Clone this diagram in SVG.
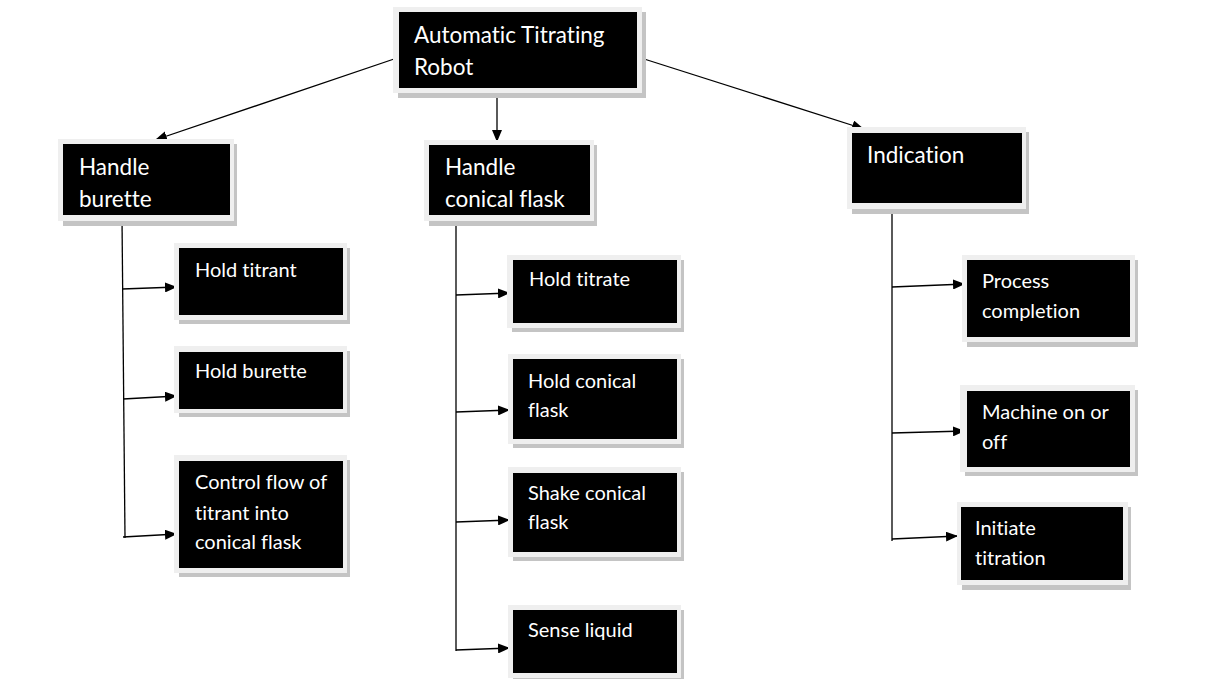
<svg xmlns="http://www.w3.org/2000/svg" width="1209" height="679" viewBox="0 0 1209 679">
<defs>
<marker id="ah" viewBox="0 0 12 10" refX="12" refY="5" markerWidth="12" markerHeight="10" markerUnits="userSpaceOnUse" orient="auto">
<path d="M0,0 L12,5 L0,10 z" fill="#000"/>
</marker>
</defs>
<style>
.sh{fill:#c4c4c4}
.fr{fill:#efefef}
.bx{fill:#000}
.t{font-family:Lato,"Open Sans","Liberation Sans",sans-serif;font-size:20px;fill:#fff;font-variant-ligatures:none}
.L{font-size:22.5px}
.c{stroke:#000;stroke-width:1.3;fill:none}
.a{stroke:#000;stroke-width:1.3;fill:none;marker-end:url(#ah)}
</style>
<rect width="1209" height="679" fill="#fff"/>
<g id="connectors">
<path class="a" d="M397,58 L155,140"/>
<path class="a" d="M497,97 L497,142"/>
<path class="a" d="M641,58 L864,129"/>
<path class="c" d="M122,218 L125,538"/>
<path class="a" d="M122,289 L177,287"/>
<path class="a" d="M123,399 L177,396"/>
<path class="a" d="M123,537 L177,534"/>
<path class="c" d="M456,218 L456,651"/>
<path class="a" d="M456,295 L510,293"/>
<path class="a" d="M456,412 L510,410"/>
<path class="a" d="M456,522 L510,520"/>
<path class="a" d="M456,650 L510,648"/>
<path class="c" d="M892,207 L892,541"/>
<path class="a" d="M892,287 L965,284"/>
<path class="a" d="M892,433 L965,431"/>
<path class="a" d="M892,539 L958,536"/>
</g>
<g id="root">
<rect class="sh" x="398" y="12" width="248" height="86"/>
<rect class="fr" x="393" y="7" width="249" height="86"/>
<rect class="bx" x="399" y="12" width="238" height="76"/>
<text class="t L" x="414" y="43">Automatic Titrating</text>
<text class="t L" x="414" y="75">Robot</text>
</g>
<g id="handle-burette">
<rect class="sh" x="63" y="144" width="174" height="82"/>
<rect class="fr" x="58" y="139" width="176" height="82"/>
<rect class="bx" x="63" y="144" width="167" height="71"/>
<text class="t L" x="79" y="175">Handle</text>
<text class="t L" x="79" y="207">burette</text>
</g>
<g id="hold-titrant">
<rect class="sh" x="179" y="248" width="171" height="76"/>
<rect class="fr" x="174" y="243" width="173" height="77"/>
<rect class="bx" x="179" y="248" width="164" height="67"/>
<text class="t" x="195" y="277">Hold titrant</text>
</g>
<g id="hold-burette">
<rect class="sh" x="179" y="351" width="171" height="66"/>
<rect class="fr" x="174" y="346" width="173" height="67"/>
<rect class="bx" x="179" y="352" width="164" height="57"/>
<text class="t" x="195" y="378">Hold burette</text>
</g>
<g id="control-flow">
<rect class="sh" x="179" y="460" width="171" height="117"/>
<rect class="fr" x="174" y="455" width="173" height="118"/>
<rect class="bx" x="179" y="461" width="164" height="107"/>
<text class="t" x="195" y="489">Control flow of</text>
<text class="t" x="195" y="520">titrant into</text>
<text class="t" x="195" y="549">conical flask</text>
</g>
<g id="handle-conical-flask">
<rect class="sh" x="429" y="145" width="168" height="81"/>
<rect class="fr" x="424" y="140" width="170" height="81"/>
<rect class="bx" x="429" y="145" width="161" height="70"/>
<text class="t L" x="445" y="175">Handle</text>
<text class="t L" x="445" y="207">conical flask</text>
</g>
<g id="hold-titrate">
<rect class="sh" x="512" y="260" width="172" height="72"/>
<rect class="fr" x="507" y="255" width="174" height="73"/>
<rect class="bx" x="513" y="260" width="164" height="63"/>
<text class="t" x="529" y="286">Hold titrate</text>
</g>
<g id="hold-conical-flask">
<rect class="sh" x="513" y="359" width="171" height="89"/>
<rect class="fr" x="508" y="354" width="173" height="90"/>
<rect class="bx" x="513" y="359" width="164" height="80"/>
<text class="t" x="528" y="388">Hold conical</text>
<text class="t" x="528" y="417">flask</text>
</g>
<g id="shake-conical-flask">
<rect class="sh" x="513" y="472" width="171" height="89"/>
<rect class="fr" x="508" y="467" width="173" height="90"/>
<rect class="bx" x="513" y="473" width="164" height="79"/>
<text class="t" x="528" y="500">Shake conical</text>
<text class="t" x="528" y="529">flask</text>
</g>
<g id="sense-liquid">
<rect class="sh" x="513" y="610" width="171" height="72"/>
<rect class="fr" x="508" y="605" width="173" height="73"/>
<rect class="bx" x="513" y="610" width="164" height="63"/>
<text class="t" x="528" y="637">Sense liquid</text>
</g>
<g id="indication">
<rect class="sh" x="852" y="132" width="177" height="82"/>
<rect class="fr" x="847" y="127" width="179" height="82"/>
<rect class="bx" x="852" y="133" width="170" height="70"/>
<text class="t L" x="867" y="163">Indication</text>
</g>
<g id="process-completion">
<rect class="sh" x="967" y="260" width="171" height="87"/>
<rect class="fr" x="962" y="255" width="173" height="87"/>
<rect class="bx" x="967" y="260" width="163" height="77"/>
<text class="t" x="982" y="288">Process</text>
<text class="t" x="982" y="318">completion</text>
</g>
<g id="machine-on-off">
<rect class="sh" x="965" y="390" width="173" height="86"/>
<rect class="fr" x="960" y="385" width="175" height="87"/>
<rect class="bx" x="967" y="391" width="163" height="76"/>
<text class="t" x="982" y="419">Machine on or</text>
<text class="t" x="982" y="449">off</text>
</g>
<g id="initiate-titration">
<rect class="sh" x="962" y="507" width="169" height="83"/>
<rect class="fr" x="957" y="502" width="171" height="83"/>
<rect class="bx" x="961" y="507" width="162" height="73"/>
<text class="t" x="975" y="535">Initiate</text>
<text class="t" x="975" y="565">titration</text>
</g>
</svg>
